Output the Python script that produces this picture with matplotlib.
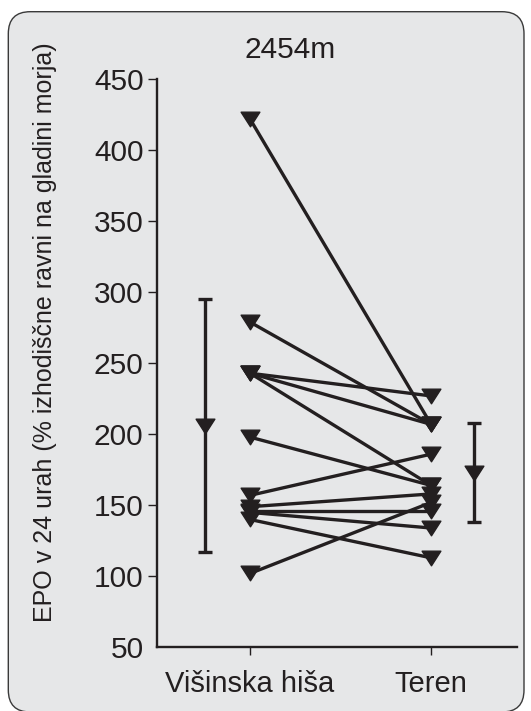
import numpy as np
import matplotlib
matplotlib.use('Agg')
import matplotlib.pyplot as plt
from matplotlib.path import Path
from matplotlib.patches import FancyBboxPatch

plt.rcParams['font.family'] = ['Liberation Sans', 'DejaVu Sans']

# podatki (odčitano s slike)
categories = ['Višinska hiša', 'Teren']
hisa = [422, 279, 243, 243, 243, 198, 157, 149, 146, 145, 140, 102]
teren = [207, 207, 227, 207, 164, 164, 186, 158, 146, 134, 113, 152]
mean_vals = [206, 173]
sd_vals = [89, 35]
title = '2454m'
ylabel = 'EPO v 24 urah (% izhodiščne ravni na gladini morja)'

ink = '#231f20'
bg = '#e6e7e8'

# trikotnik navzdol, nekoliko širši kot višji
tri = Path([(-1, 0.78), (1, 0.78), (0, -0.78), (-1, 0.78)],
           [Path.MOVETO, Path.LINETO, Path.LINETO, Path.CLOSEPOLY])

fig = plt.figure(figsize=(5.31, 7.11), dpi=100)
fig.patch.set_facecolor('white')

# zaobljen okvir ozadja
box = FancyBboxPatch((0.083 + 0.22, -0.01 + 0.22), 5.24 - 0.083 - 0.44, 6.993 + 0.01 - 0.44,
                     boxstyle='round,pad=0.22', transform=fig.dpi_scale_trans,
                     facecolor=bg, edgecolor='#3a3a3a', linewidth=1.0, zorder=-1)
fig.patches.append(box)

ax = fig.add_axes([0.2951, 0.0896, 0.9736 - 0.2951, 0.8885 - 0.0896])
ax.set_facecolor('none')
ax.set_zorder(1)

for a, b in zip(hisa, teren):
    ax.plot([1, 2], [a, b], color=ink, lw=2.4, marker=tri, ms=13.5,
            mfc=ink, mec=ink, solid_capstyle='butt', zorder=3)

ax.errorbar([0.75, 2.24], mean_vals, yerr=sd_vals, fmt='none', ecolor=ink,
            elinewidth=2.4, capsize=5, capthick=2.4, zorder=3)
ax.plot([0.75, 2.24], mean_vals, ls='none', marker=tri, ms=13.5,
        mfc=ink, mec=ink, zorder=4)

ax.set_xlim(0.484, 2.475)
ax.set_ylim(50, 450)
ax.set_yticks(np.arange(50, 451, 50))
ax.set_yticklabels(['50'] + [str(v) for v in range(100, 451, 50)])
ax.set_xticks([1, 2])
ax.set_xticklabels(categories)

for s in ['top', 'right']:
    ax.spines[s].set_visible(False)
for s in ['left', 'bottom']:
    ax.spines[s].set_linewidth(1.7)
    ax.spines[s].set_color(ink)

ax.tick_params(axis='y', length=6.5, width=1.0, color=ink, labelsize=21.5,
               labelcolor=ink, pad=3)
ax.tick_params(axis='x', length=6, width=1.0, color=ink, labelsize=21,
               labelcolor=ink, pad=10)
# oznaka 50 nima črtice
ax.yaxis.get_major_ticks()[0].tick1line.set_visible(False)

fig.text(290 / 531, 1 - 50 / 711, title, ha='center', va='center',
         fontsize=21.5, color=ink)
fig.text(45 / 531, 1 - 332 / 711, ylabel, rotation=90, ha='center',
         va='center', fontsize=18, color=ink)

fig.savefig('out.png', dpi=100)
